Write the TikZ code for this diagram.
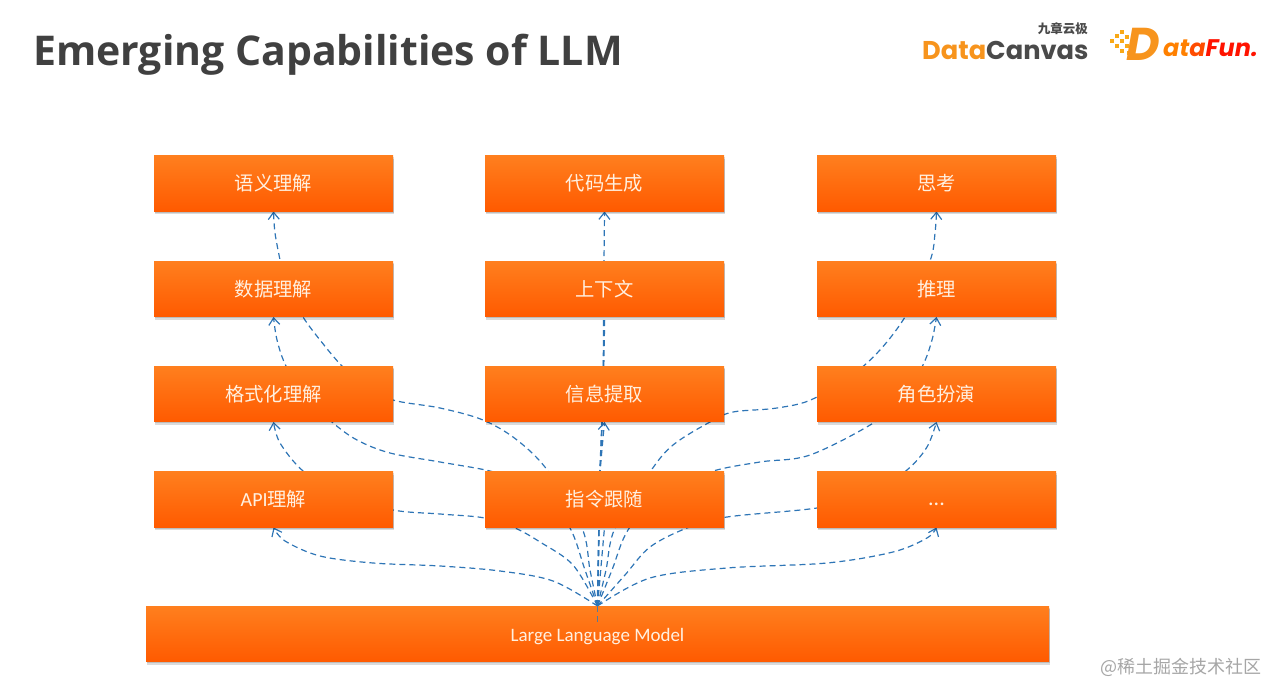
\documentclass[tikz,border=0pt]{standalone}
\usepackage{fontspec}
\setmainfont{Noto Sans CJK SC}
\newfontfamily\titlefont{Open Sans}
\newfontfamily\latinfont{Carlito}
\newfontfamily\logofont{Poppins}
\usetikzlibrary{arrows.meta,shadows,backgrounds}
\definecolor{titlegray}{HTML}{404040}
\definecolor{boxtop}{HTML}{FF7F1E}
\definecolor{boxbot}{HTML}{FF5A00}
\definecolor{linkblue}{HTML}{2E75B6}
\definecolor{boxtext}{HTML}{FFF0E0}
\definecolor{logoorange}{HTML}{F7941D}
\definecolor{logogray}{HTML}{4A4A4A}
\tikzset{
  orangebox/.style={rectangle,inner sep=0pt,top color=boxtop,bottom color=boxbot,
    text=boxtext,minimum width=239pt,minimum height=55.5pt,font=\fontsize{19.3}{22}\selectfont,
    general shadow={fill=black,opacity=.14,shadow xshift=0.5pt,shadow yshift=-1.5pt},
    general shadow={fill=black,opacity=.14,shadow xshift=1pt,shadow yshift=-3pt}},
  wide/.style={orangebox,minimum width=903pt,font=\latinfont\fontsize{19}{22}\selectfont},
  plainlink/.style={draw=linkblue,line width=1.2pt,dash pattern=on 6pt off 4pt},
  link/.style={plainlink,-{Straight Barb[length=7pt,width=11pt,line width=1.2pt]}},
  spur/.style={draw=linkblue!55!gray,line width=1.2pt,dash pattern=on 6pt off 4pt},
  smoothlink/.style={smooth,tension=.55}
}
\begin{document}
\begin{tikzpicture}[x=1pt,y=-1pt]
\useasboundingbox (0,0) rectangle (1268,684);
% boxes
\node[orangebox] (sem)  at (273.5,183.5) {语义理解};
\node[orangebox] (code) at (604.5,183.5) {代码生成};
\node[orangebox] (think) at (936.5,183.5) {思考};
\node[orangebox] (data) at (273.5,289) {数据理解};
\node[orangebox] (ctx)  at (604.5,289) {上下文};
\node[orangebox] (reason) at (936.5,289) {推理};
\node[orangebox] (fmt)  at (273.5,394) {格式化理解};
\node[orangebox] (info) at (604.5,394) {信息提取};
\node[orangebox] (role) at (936.5,394) {角色扮演};
\node[orangebox] (api)  at (273.5,499.5) {\latinfont\fontsize{20}{22}\selectfont API\normalfont\fontsize{19.3}{22}\selectfont 理解};
\node[orangebox] (inst) at (604.5,499.5) {指令跟随};
\node[orangebox] (more) at (936.5,499.5) {\raisebox{-6pt}[0pt][0pt]{\latinfont\fontsize{22}{22}\selectfont ...}};
\node[wide] (llm) at (597.5,634) {\raisebox{-7pt}[0pt][0pt]{Large Language Model}};
\coordinate (src) at (597.5,606);
\coordinate (tail) at (597.5,622);
% connectors, behind the boxes
\begin{scope}[on background layer]
\draw[link] plot[smoothlink] coordinates {(src) (553,581) (500,571) (440,566) (373,563) (320,556) (285,541) (api.south)};
\draw[link] plot[smoothlink] coordinates {(src) (573,565) (540,542) (515,528) (485,518) (440,514) (393,510) (340,495) (303,471) (280,443) (fmt.south)};
\draw[link] plot[smoothlink] coordinates {(src) (585,570) (570,528) (545,500) (520,482) (490,471) (440,462) (390,453) (357,440) (332,422) (305,395) (286,366) (277,340) (data.south)};
\draw[link] plot[smoothlink] coordinates {(src) (590,570) (582,528) (548,471) (517,440) (483,420) (440,408) (393,400) (365,385) (342,366) (320,340) (303,317) (285,285) (280,260) (275,233) (sem.south)};
\draw[plainlink] (src) -- (inst.south);
\draw[link] (src) -- (600,471) -- (info.south);
\draw[plainlink,line width=1.6pt] (src) -- (600,471) -- (603,400) -- (ctx.south);
\draw[link] (src) -- (600,471) -- (603,400) -- (604,261) -- (code.south);
\draw[link] plot[smoothlink] coordinates {(src) (606,570) (615,528) (650,472) (673,445) (710,422) (733,412) (777,408) (815,398) (867,363) (905,317) (930,261) (935,233) (think.south)};
\draw[link] plot[smoothlink] coordinates {(src) (612,570) (628,530) (660,495) (710,472) (760,462) (810,455) (875,422) (905,395) (923,365) (932,340) (reason.south)};
\draw[link] plot[smoothlink] coordinates {(src) (625,575) (650,547) (687,528) (727,517) (817,508) (870,495) (907,470) (927,447) (role.south)};
\draw[link] plot[smoothlink] coordinates {(src) (650,578) (727,568) (827,563) (893,552) (927,538) (more.south)};
\end{scope}
\draw[spur] (src) -- (tail);
% title
\node[anchor=west,inner sep=0pt,text=titlegray,font=\titlefont\bfseries\fontsize{41}{45}\selectfont] (title) at (33,55) {Emerging Capabilities of LLM};
% logos
\node[anchor=east,inner sep=0pt,font=\bfseries\fontsize{12.5}{14}\selectfont,text=logogray] (cn) at (1088,29) {九章云极};
\node[anchor=west,inner sep=0pt,font=\logofont\bfseries\fontsize{25.7}{28}\selectfont] (dc) at (922,50) {\textcolor{logoorange}{Data}\textcolor{logogray}{Canvas}};
\foreach \x/\y in {1112/41,1117/36,1122/32,1117/46,1122/41,1127/37,1122/51,1127/46,1132/42,1129/53}{
  \fill[logoorange!80!yellow] (\x-2,\y-2) rectangle (\x+2,\y+2);}
\node[anchor=west,inner sep=0pt,font=\logofont\itshape\bfseries\fontsize{46}{48}\selectfont,text=logoorange] (dd) at (1126,44) {D};
\node[anchor=east,inner sep=0pt,font=\logofont\itshape\bfseries\fontsize{24}{28}\selectfont] (df) at (1258,48) {\textcolor{orange}{at}\textcolor{orange!60!red}{a}\textcolor{red!85!orange}{Fun.}};
% watermark
\node[anchor=east,inner sep=0pt,text=black!35,font=\fontsize{18}{20}\selectfont] (mark) at (1262,667) {@稀土掘金技术社区};
\end{tikzpicture}
\end{document}
